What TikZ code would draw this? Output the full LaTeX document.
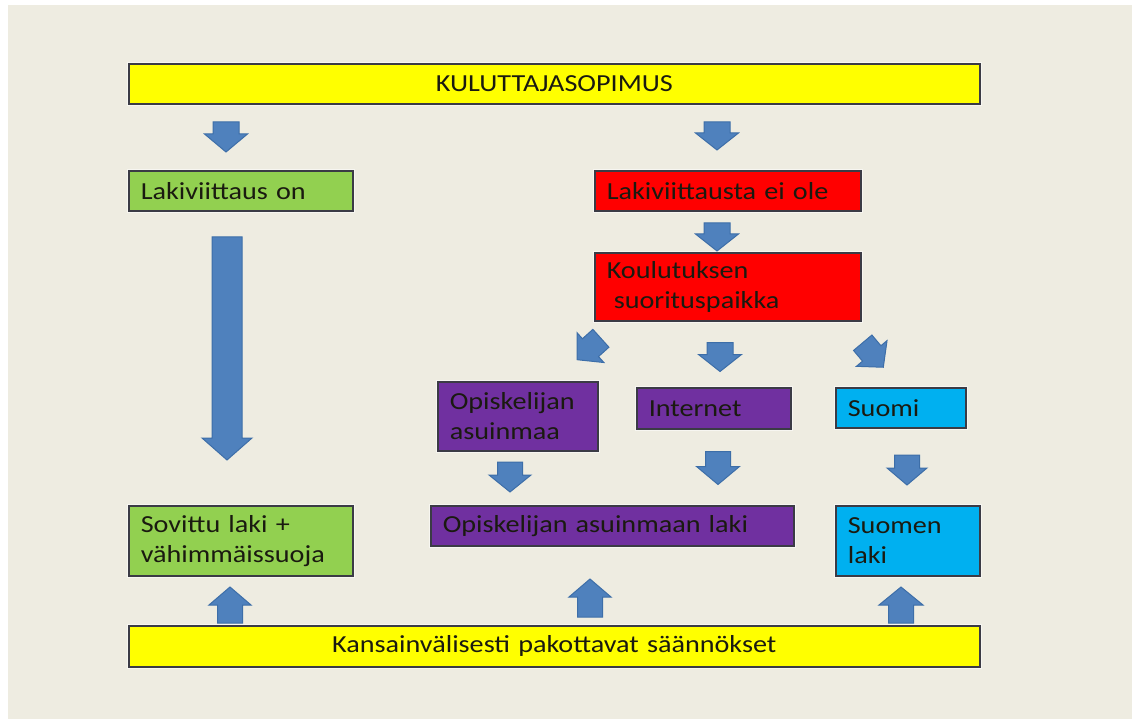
\documentclass[tikz,border=0pt]{standalone}
\usepackage{fontspec}
\setmainfont{Carlito}[FakeStretch=1.15]
\definecolor{bgbeige}{HTML}{EEECE1}
\definecolor{cyellow}{HTML}{FFFF00}
\definecolor{cgreen}{HTML}{92D050}
\definecolor{cred}{HTML}{FF0000}
\definecolor{cpurple}{HTML}{7030A0}
\definecolor{ccyan}{HTML}{00B0F0}
\definecolor{edgegray}{HTML}{3B3B45}
\definecolor{arrblue}{HTML}{4F81BD}
\definecolor{arredge}{HTML}{3D6EA8}
\definecolor{txtdark}{HTML}{1A1A10}
\tikzset{
  box/.style={draw=edgegray, line width=1.6pt, anchor=north west,
    inner xsep=12pt, inner ysep=0pt, align=left, text=txtdark,
    font=\fontsize{24.5}{30}\selectfont,
    preaction={draw=white, line width=4.5pt, draw opacity=0.55}},
  boxc/.style={box, align=center},
  blkarr/.style={fill=arrblue, draw=arredge, line width=1pt, line join=miter},
}
\newcommand\blkarrow[7]{% x, y, rotation, length, shaft, head width, head length
  \filldraw[blkarr, shift={(#1,#2)}, rotate=#3]
    ({-(#5)/2},{-(#4)/2}) -- ({(#5)/2},{-(#4)/2}) -- ({(#5)/2},{(#4)/2-(#7)})
    -- ({(#6)/2},{(#4)/2-(#7)}) -- (0,{(#4)/2}) -- ({-(#6)/2},{(#4)/2-(#7)})
    -- ({-(#5)/2},{(#4)/2-(#7)}) -- cycle;}
\begin{document}
\begin{tikzpicture}[x=1pt,y=-1pt]
\useasboundingbox (0,0) rectangle (1132,719);
\fill[white] (0,0) rectangle (1132,719);
\fill[bgbeige] (8,5) rectangle (1132,719);

% boxes
\node[boxc, fill=cyellow, minimum width=851pt, minimum height=40pt, text width=827pt] (kulut) at (128,63) {KULUTTAJASOPIMUS};
\node[box, fill=cgreen, minimum width=224pt, minimum height=40pt, text width=200pt] (lakion) at (128,170) {Lakiviittaus on};
\node[box, fill=cred, minimum width=266pt, minimum height=40pt, text width=242pt] (lakiei) at (594,170) {Lakiviittausta ei ole};
\node[box, fill=cred, minimum width=266pt, minimum height=68pt, text width=242pt] (koulu) at (594,252) {Koulutuksen\\\hspace*{7pt}suorituspaikka};
\node[box, fill=cpurple, minimum width=160pt, minimum height=69pt, text width=136pt] (asuinmaa) at (437,381) {Opiskelijan\\asuinmaa};
\node[box, fill=cpurple, minimum width=154pt, minimum height=41pt, text width=130pt] (internet) at (636,387) {Internet};
\node[box, fill=ccyan, minimum width=130pt, minimum height=40pt, text width=106pt] (suomi) at (835,387) {Suomi};
\node[box, fill=cgreen, minimum width=224pt, minimum height=70pt, text width=200pt] (sovittu) at (128,505) {Sovittu laki +\\vähimmäissuoja};
\node[box, fill=cpurple, minimum width=363pt, minimum height=40pt, text width=339pt] (asuinlaki) at (430,505) {Opiskelijan asuinmaan laki};
\node[box, fill=ccyan, minimum width=144pt, minimum height=70pt, text width=120pt] (suomenlaki) at (835,505) {Suomen\\laki};
\node[boxc, fill=cyellow, minimum width=851pt, minimum height=41pt, text width=827pt] (kansain) at (128,625) {Kansainvälisesti pakottavat säännökset};

% block arrows
\blkarrow{226}{137}{0}{30}{26}{43}{18}
\blkarrow{717}{136}{0}{28}{26}{43}{17}
\blkarrow{227}{348.5}{0}{223}{30}{50}{22}
\blkarrow{717}{237}{0}{28}{26}{43}{17}
\blkarrow{589}{349}{-48}{32}{24}{40}{18}
\blkarrow{720}{357}{0}{29}{26}{43}{17}
\blkarrow{873}{355}{40}{32}{24}{40}{18}
\blkarrow{510}{477}{0}{30}{25}{42}{17}
\blkarrow{718}{468}{0}{33}{25}{43}{18}
\blkarrow{907}{470}{0}{30}{25}{40}{17}
\blkarrow{230}{605}{180}{36}{25}{42}{18}
\blkarrow{590}{598}{180}{38}{25}{42}{18}
\blkarrow{901}{605}{180}{36}{25}{44}{18}
\end{tikzpicture}
\end{document}
